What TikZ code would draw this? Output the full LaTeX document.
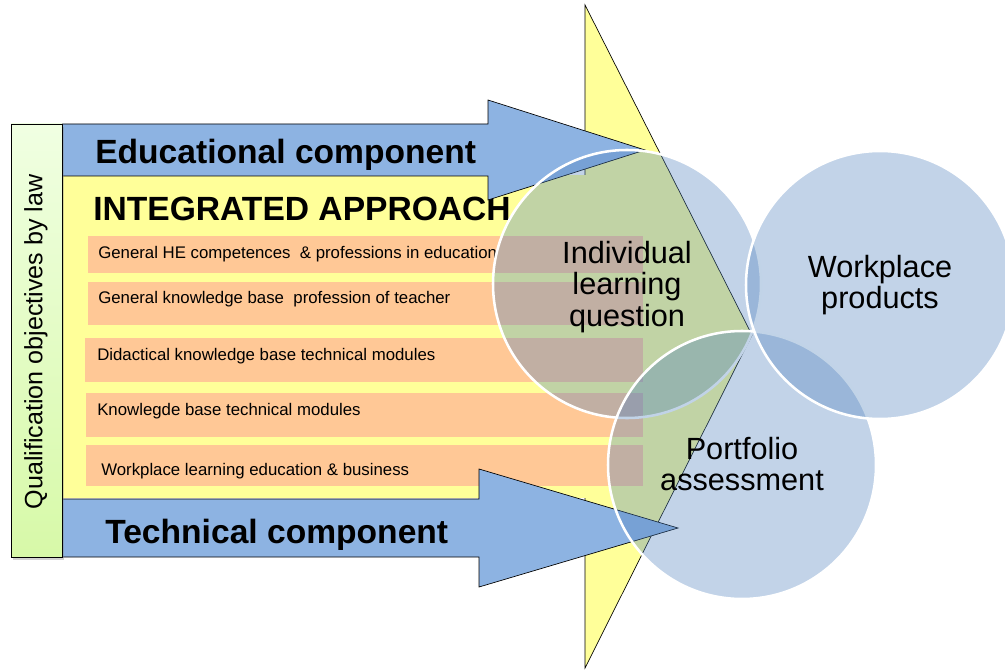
\documentclass[tikz,border=0pt]{standalone}
\usepackage{fontspec}
\setmainfont{Liberation Sans}
\usetikzlibrary{shadows}
\definecolor{pale}{HTML}{FFFF99}
\definecolor{peach}{HTML}{FFC896}
\definecolor{arrowblue}{HTML}{8DB3E2}
\definecolor{venn}{HTML}{4F81BD}
\definecolor{lawtop}{HTML}{F0FFE2}
\definecolor{lawbot}{HTML}{D7F9A8}

\begin{document}
\begin{tikzpicture}[x=0.75pt,y=-0.75pt,
  subject/.style={anchor=base west,inner sep=0,font=\fontsize{12.6}{15}\selectfont},
  heading/.style={anchor=base west,inner sep=0,font=\fontsize{25.2}{30}\selectfont\bfseries},
  bubble/.style={fill=venn,fill opacity=0.35,draw=white,line width=1.9pt},
  bubbletext/.style={align=center,inner sep=0,font=\fontsize{23}{23.5}\selectfont}]
  \useasboundingbox (0,0) rectangle (1005,670);

  % yellow wedge and the approach panel
  \draw[fill=pale,line width=0.5pt] (585,5) -- (752,335) -- (585,668) -- cycle;
  \fill[pale] (62,175) rectangle (600,498);

  % subject bars
  \foreach \xl/\ytop/\ybot in {88/236/273,88/282/325,85/338/382,86/393/437,86/445/486}
    \fill[peach] (\xl,\ytop) rectangle (643,\ybot);
  \begin{scope}
    \clip (0,0) rectangle (496,670);
    \foreach \x/\y/\name/\txt in {98/258/hecomp/{General HE competences\ \ \& professions in education},
                                  98/303/teacher/{General knowledge base\ \ profession of teacher},
                                  97/360/didact/{Didactical knowledge base technical modules},
                                  97/415/techbase/{Knowlegde base technical modules},
                                  101/475/workplace/{Workplace learning education \& business}}
      \node[subject] (\name) at (\x,\y) {\txt};
  \end{scope}
  \node[heading] (integrated) at (93,220) {INTEGRATED APPROACH};

  % the two component arrows
  \draw[fill=arrowblue,line width=0.5pt] (62,124) -- (488,124) -- (488,100) -- (645,150)
    -- (488,200) -- (488,176) -- (62,176) -- cycle;
  \draw[fill=arrowblue,line width=0.5pt] (62,499) -- (479,499) -- (479,469) -- (678,528)
    -- (479,587) -- (479,557) -- (62,557) -- cycle;
  \node[heading] (educational) at (95,164) {Educational component};
  \node[heading] (technical) at (105,543) {Technical component};

  % qualification bar
  \draw[top color=lawtop,bottom color=lawbot,line width=0.5pt,
    drop shadow={shadow xshift=1.5pt,shadow yshift=-2pt,opacity=0.35}] (11,124) rectangle (62,557);
  \node[rotate=90,inner sep=0,font=\fontsize{18.8}{22}\selectfont] (law) at (36,342) {Qualification objectives by law};

  % assessment circles
  \draw[bubble] (627,284) circle[radius=134];
  \draw[bubble] (742,465) circle[radius=134];
  \draw[bubble] (880,285) circle[radius=134];
  \node[bubbletext] (question) at (627,287) {Individual\\learning\\question};
  \node[bubbletext] (products) at (880,285) {Workplace\\products};
  \node[bubbletext] (portfolio) at (742,464) {Portfolio\\assessment};

\end{tikzpicture}
\end{document}
